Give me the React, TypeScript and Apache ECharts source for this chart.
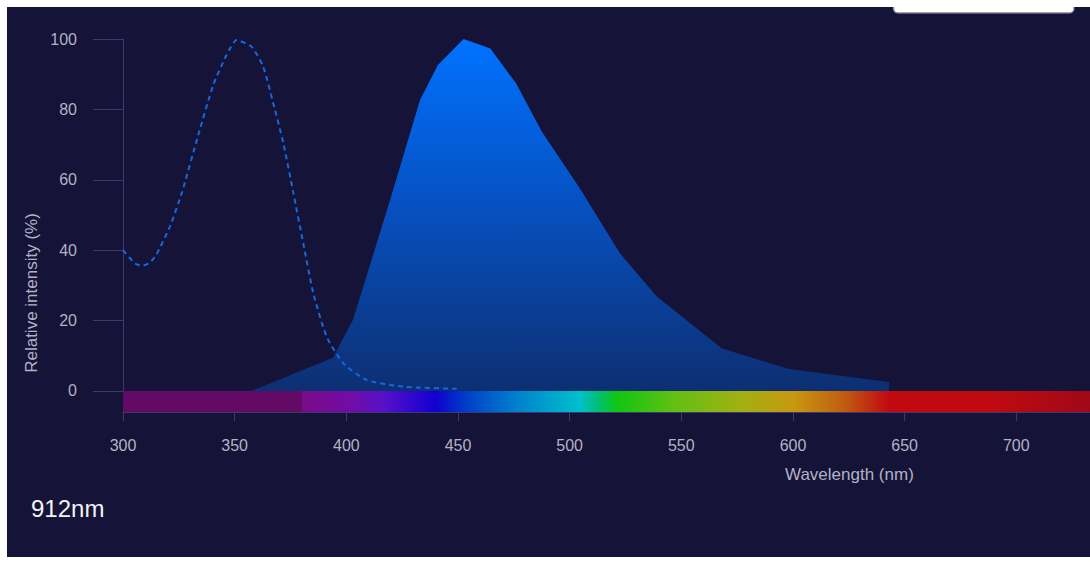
import React, { useEffect, useRef } from "react";
import * as echarts from "echarts";

// Emission spectrum (wavelength nm, relative intensity %)
const emissionNm = [357.6, 394, 403, 419.5, 433, 441, 452.5, 464.5, 476, 487.5, 504.6, 522.5, 539, 568, 598, 643];
const emissionVal = [0, 9.4, 20.2, 54, 82.7, 92.6, 100, 97.3, 87.4, 73.7, 57.5, 39.1, 26.8, 12.1, 6.2, 2.5];

// Excitation spectrum
const excitationNm = [300, 305.4, 308.5, 312, 315, 321, 326.3, 333.7, 340.4, 346.4, 350.9, 357.6, 362.8, 367.3, 371.8, 376.3, 380.7, 385.2, 391.2, 398.6, 409.1, 425.5, 449.4];
const excitationVal = [40, 36.2, 35.6, 36.4, 38.8, 46.7, 56.2, 72.7, 86.9, 95.5, 99.7, 97.8, 92.1, 81.7, 70.4, 56.2, 42, 27.8, 15.4, 7.9, 3.1, 1.2, 0.6];

// Visible-spectrum colour bar (wavelength nm -> colour)
const spectrumNm = [300, 380, 380.1, 403, 416, 440, 454, 476, 504.6, 513, 521, 546, 576, 600, 622, 643, 688, 733];
const spectrumColors = ["#620a65", "#620a65", "#7a0a88", "#700ca8", "#5a10c8", "#1000d0", "#0040c8", "#0080cc", "#00c0cc", "#00c070", "#10c612", "#60c012", "#a0b012", "#c89810", "#c06010", "#c00a10", "#c00a10", "#a00818"];

const xMin = 300;
const xMax = 733;
const yMin = -6;
const yMax = 100;
const xTicks = [300, 350, 400, 450, 500, 550, 600, 650, 700];
const yTicks = [0, 20, 40, 60, 80, 100];

const xTitle = "Wavelength (nm)";
const yTitle = "Relative intensity (%)";
const peakLabel = "912nm";

export default function App() {
  const ref = useRef<HTMLDivElement>(null);

  useEffect(() => {
    if (!ref.current) return;
    const chart = echarts.init(ref.current, undefined, { renderer: "svg" });

    const axisColor = "#3c3870";
    const labelColor = "#b2b2c4";
    const font = "Liberation Sans, Arial, sans-serif";

    const stops = spectrumNm.map((nm, i) => ({
      offset: (nm - xMin) / (xMax - xMin),
      color: spectrumColors[i],
    }));

    chart.setOption({
      animation: false,
      backgroundColor: "#151337",
      grid: {
        left: 116,
        top: 32,
        right: 0,
        bottom: 145,
        containLabel: false,
        outerBoundsMode: "none",
      },
      xAxis: {
        type: "value",
        min: xMin,
        max: xMax,
        interval: 50,
        axisLine: { show: true, onZero: false, lineStyle: { color: axisColor, width: 1 } },
        axisTick: { show: true, length: 9, customValues: xTicks, lineStyle: { color: axisColor } },
        axisLabel: {
          customValues: xTicks,
          color: labelColor,
          fontSize: 16,
          fontFamily: font,
          margin: 25,
        },
        splitLine: { show: false },
      },
      yAxis: {
        type: "value",
        min: yMin,
        max: yMax,
        axisLine: { show: true, onZero: false, lineStyle: { color: axisColor, width: 1 } },
        axisTick: { show: true, length: 30, customValues: yTicks, lineStyle: { color: axisColor } },
        axisLabel: {
          customValues: yTicks,
          color: labelColor,
          fontSize: 16,
          fontFamily: font,
          margin: 46,
        },
        splitLine: { show: false },
      },
      series: [
        {
          type: "line",
          data: emissionNm.map((x, i) => [x, emissionVal[i]]),
          showSymbol: false,
          symbol: "none",
          lineStyle: { width: 0 },
          areaStyle: {
            origin: 0,
            opacity: 1,
            color: new echarts.graphic.LinearGradient(0, 0, 0, 1, [
              { offset: 0, color: "#0072ff" },
              { offset: 0.45, color: "#0652c4" },
              { offset: 1, color: "#0d2f72" },
            ]),
          },
          z: 2,
        },
        {
          type: "line",
          data: excitationNm.map((x, i) => [x, excitationVal[i]]),
          showSymbol: false,
          symbol: "none",
          smooth: 0.2,
          lineStyle: { color: "#1668e0", width: 2, type: [5, 4] },
          z: 3,
        },
        {
          type: "custom",
          data: [[xMin, xMax, 0, yMin]],
          encode: { x: [0, 1], y: [2, 3] },
          renderItem: (params: any, api: any) => {
            const p0 = api.coord([api.value(0), api.value(2)]);
            const p1 = api.coord([api.value(1), api.value(3)]);
            return {
              type: "rect",
              shape: { x: p0[0], y: p0[1], width: p1[0] - p0[0], height: p1[1] - p0[1] },
              style: { fill: new echarts.graphic.LinearGradient(0, 0, 1, 0, stops) },
            };
          },
          z: 4,
        },
      ],
      graphic: [
        {
          type: "rect",
          left: 886,
          top: -20,
          shape: { width: 180, height: 25, r: 4 },
          style: { fill: "#ffffff", stroke: "#a0a0b4", lineWidth: 1.5 },
          z: 10,
        },
        {
          type: "text",
          left: 778,
          top: 459,
          style: { text: xTitle, fill: labelColor, font: `17px ${font}` },
        },
        {
          type: "text",
          x: 24,
          y: 286,
          rotation: Math.PI / 2,
          style: {
            text: yTitle,
            fill: labelColor,
            font: `17px ${font}`,
            align: "center",
            verticalAlign: "middle",
          },
        },
        {
          type: "text",
          left: 24,
          top: 489,
          style: { text: peakLabel, fill: "#f2f2f6", font: `24px ${font}` },
        },
      ],
    });

    return () => chart.dispose();
  }, []);

  return (
    <div
      ref={ref}
      style={{ position: "absolute", left: 7, top: 7, width: 1083, height: 550 }}
    />
  );
}
